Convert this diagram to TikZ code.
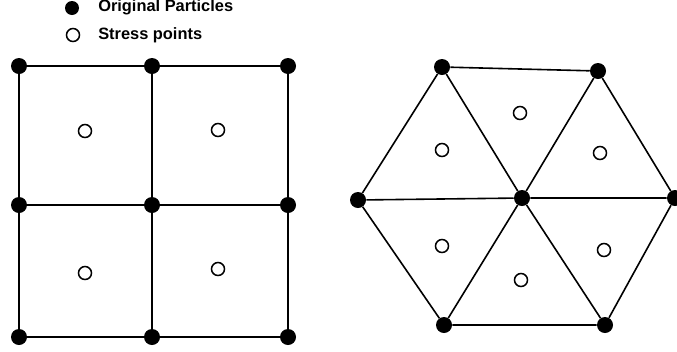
\documentclass[tikz,border=0pt]{standalone}
\usepackage{fontspec}
\setmainfont{Liberation Sans}
\usetikzlibrary{positioning}

\begin{document}
\begin{tikzpicture}[
    x=0.75pt, y=-0.75pt,
    particle/.style={circle, fill=black, inner sep=0pt, minimum size=16*0.75pt},
    stress/.style={circle, draw=black, fill=white, line width=1.15pt, inner sep=0pt, minimum size=13*0.75pt},
    edge/.style={draw=black, line width=1.2pt},
    legend/.style={font=\fontsize{12.3}{14}\selectfont\bfseries, anchor=west, inner sep=0pt}
]
\useasboundingbox (0,0) rectangle (677,351);

% Legend
\node[particle, minimum size=14*0.75pt] (lgpart) at (72,8) {};
\node[stress] (lgstress) at (73,35) {};
\node[legend] (lgparttext) at (98,7) {Original Particles};
\node[legend] (lgstresstext) at (98,35) {Stress points};

% Square grid - particles
\node[particle] (q11) at (19,66) {};
\node[particle] (q12) at (152,66) {};
\node[particle] (q13) at (288,66) {};
\node[particle] (q21) at (19,205) {};
\node[particle] (q22) at (152,205) {};
\node[particle] (q23) at (288,205) {};
\node[particle] (q31) at (19,337) {};
\node[particle] (q32) at (152,337) {};
\node[particle] (q33) at (288,337) {};

% Square grid - edges
\draw[edge] (q11) -- (q12) -- (q13);
\draw[edge] (q21) -- (q22) -- (q23);
\draw[edge] (q31) -- (q32) -- (q33);
\draw[edge] (q11) -- (q21) -- (q31);
\draw[edge] (q12) -- (q22) -- (q32);
\draw[edge] (q13) -- (q23) -- (q33);

% Square grid - stress points
\node[stress] (sq1) at (85,131) {};
\node[stress] (sq2) at (218,130) {};
\node[stress] (sq3) at (85,273) {};
\node[stress] (sq4) at (218,269) {};

% Hexagon - particles
\node[particle] (hc) at (522,198) {};
\node[particle] (htl) at (442,67) {};
\node[particle] (htr) at (598,71) {};
\node[particle] (hl) at (358,200) {};
\node[particle] (hr) at (675,198) {};
\node[particle] (hbl) at (444,325) {};
\node[particle] (hbr) at (605,325) {};

% Hexagon - edges
\draw[edge] (htl) -- (htr) -- (hr) -- (hbr) -- (hbl) -- (hl) -- (htl);
\draw[edge] (hl) -- (hc) -- (hr);
\draw[edge] (htl) -- (hc) -- (hbr);
\draw[edge] (htr) -- (hc) -- (hbl);

% Hexagon - stress points
\node[stress] (sh1) at (442,150) {};
\node[stress] (sh2) at (520,113) {};
\node[stress] (sh3) at (600,153) {};
\node[stress] (sh4) at (442,246) {};
\node[stress] (sh5) at (521,280) {};
\node[stress] (sh6) at (604,250) {};

\end{tikzpicture}
\end{document}
